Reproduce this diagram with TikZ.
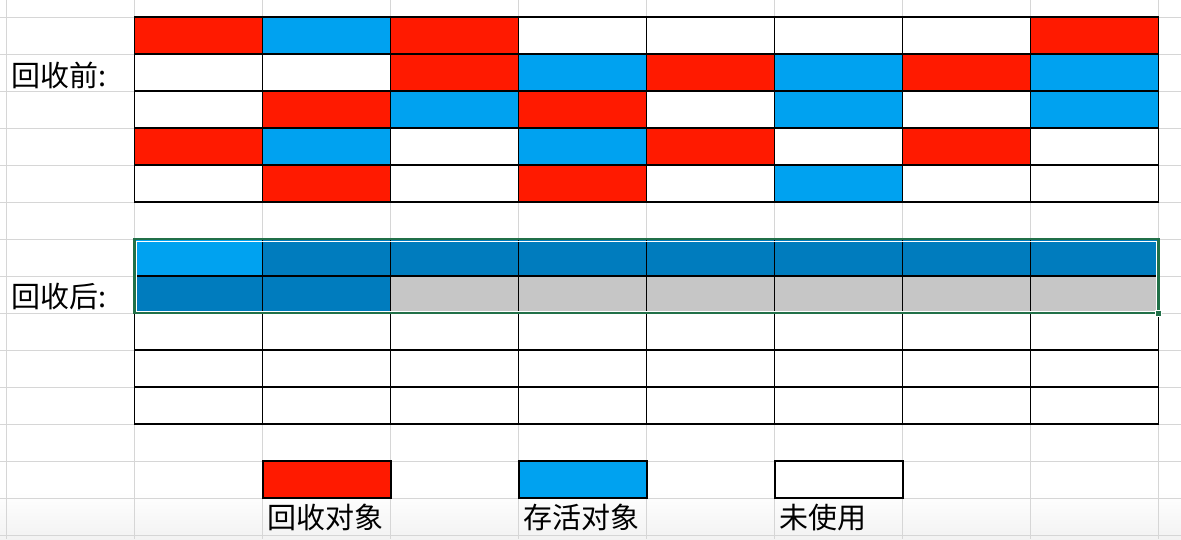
\documentclass[tikz,border=0pt]{standalone}
\usepackage{fontspec}
\setmainfont{Noto Sans CJK SC}
\usepackage{xcolor}
\usepackage{tikz}
\usetikzlibrary{positioning}
\definecolor{dead}{RGB}{255,26,0}
\definecolor{live}{RGB}{0,162,240}
\definecolor{moved}{RGB}{0,124,190}
\definecolor{cleared}{RGB}{198,198,198}
\colorlet{free}{white}
\colorlet{active}{live}
\definecolor{gridgray}{RGB}{214,214,214}
\definecolor{selgreen}{RGB}{33,112,72}

\begin{document}
\begin{tikzpicture}[x=0.02cm, y=-0.02cm,
      cell/.style={draw=black, line width=0.65pt, minimum width=2.56cm,
                   minimum height=0.74cm, inner sep=0pt, outer sep=0pt},
      gridline/.style={draw=gridgray, line width=0.55pt},
      lbl/.style={font=\fontsize{16.5pt}{19pt}\selectfont, inner sep=0pt,
                  anchor=west},
      selbox/.style={draw=selgreen, line width=1.3pt}]
    \useasboundingbox (0,0) rectangle (1181,539);
    \fill[white] (0,0) rectangle (1181,539);
    \fill[top color=white, bottom color=gray!10] (0,492) rectangle (1181,539);
    % spreadsheet grid
    \foreach \k in {0,...,14}
      \draw[gridline] (0,{17+37*\k}) -- (1181,{17+37*\k});
    \foreach \k in {0,...,9}
      \draw[gridline] ({6.5+128*\k},0) -- ({6.5+128*\k},539);
    % before collection
    \foreach \row [count=\r] in {{dead,live,dead,free,free,free,free,dead},
                                 {free,free,dead,live,dead,live,dead,live},
                                 {free,dead,live,dead,free,live,free,live},
                                 {dead,live,free,live,dead,free,dead,free},
                                 {free,dead,free,dead,free,live,free,free}} {
      \foreach \kind [count=\c] in \row
        \node[cell, fill=\kind] (pre-\r-\c)
              at ({198.5+128*(\c-1)}, {35.5+37*(\r-1)}) {};
    }
    % after collection
    \foreach \row [count=\r] in {{active,moved,moved,moved,moved,moved,moved,moved},
                                 {moved,moved,cleared,cleared,cleared,cleared,cleared,cleared},
                                 {free,free,free,free,free,free,free,free},
                                 {free,free,free,free,free,free,free,free},
                                 {free,free,free,free,free,free,free,free}} {
      \foreach \kind [count=\c] in \row
        \node[cell, fill=\kind] (post-\r-\c)
              at ({198.5+128*(\c-1)}, {257.5+37*(\r-1)}) {};
    }
    \draw[selbox] (post-1-1.north west) rectangle (post-2-8.south east);
    \draw[white, line width=0.5pt] ([shift={(2,2)}]post-1-1.north west)
          rectangle ([shift={(-2,-2)}]post-2-8.south east);
    \node[draw=white, fill=selgreen, line width=0.4pt, inner sep=0pt,
          minimum size=0.12cm] (handle) at (post-2-8.south east) {};
    \node[lbl] (preLabel) at (11,75) {回收前:};
    \node[lbl] (postLabel) at (11,297) {回收后:};
    % legend
    \node[cell, fill=dead] (keyDead) at (327,479.5) {};
    \node[cell, fill=live] (keyLive) at (583,479.5) {};
    \node[cell, fill=free] (keyFree) at (839,479.5) {};
    \node[lbl, below right=0.12cm and 0.08cm of keyDead.south west] (txtDead) {回收对象};
    \node[lbl, below right=0.12cm and 0.08cm of keyLive.south west] (txtLive) {存活对象};
    \node[lbl, below right=0.12cm and 0.08cm of keyFree.south west] (txtFree) {未使用};
  \end{tikzpicture}
\end{document}
